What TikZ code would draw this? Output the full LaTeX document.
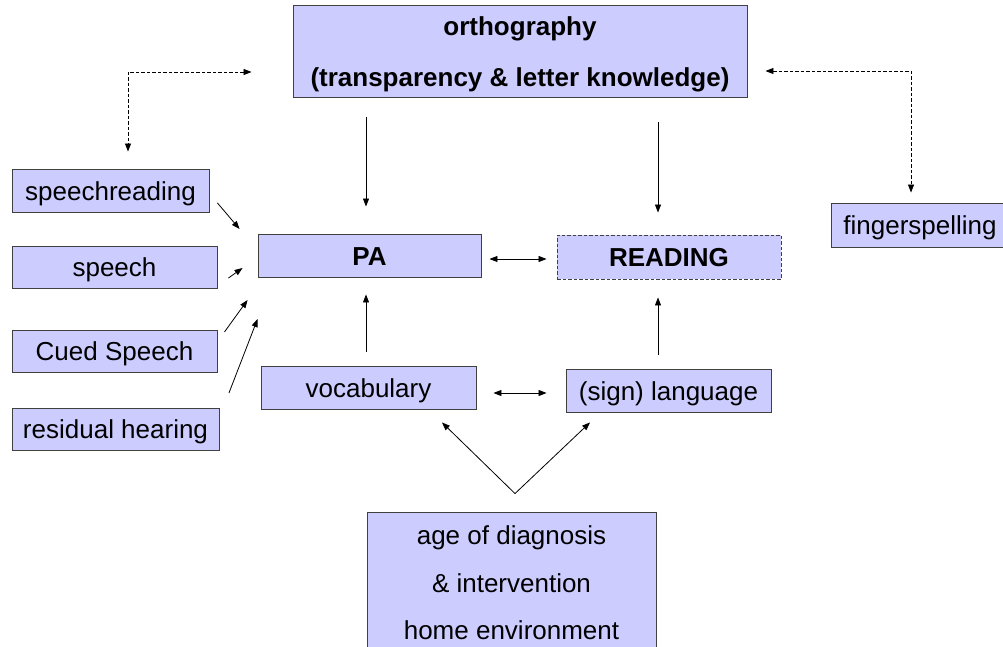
\documentclass[tikz,border=0pt]{standalone}
\usepackage{fontspec}
\setmainfont{Liberation Sans}
\usetikzlibrary{arrows.meta,calc}
\definecolor{boxfill}{HTML}{CCCCFF}
\definecolor{boxline}{HTML}{404040}
\tikzset{
  box/.style={draw=boxline, fill=boxfill, line width=0.9pt, rectangle, inner sep=0pt,
    font=\fontsize{26}{30}\selectfont, text=black},
  onebox/.style={box, text height=22pt, text depth=2.5pt},
  boldbox/.style={onebox, font=\fontsize{26}{30}\selectfont\bfseries},
  arr/.style={-{Triangle[length=8pt,width=6pt]}, line width=0.8pt, draw=black},
  biarr/.style={{Triangle[length=8pt,width=6pt]}-{Triangle[length=8pt,width=6pt]}, line width=0.8pt, draw=black},
  darr/.style={biarr, dash pattern=on 3.5pt off 2pt}
}
\begin{document}
\begin{tikzpicture}[x=1pt,y=-1pt]
\useasboundingbox (0,0) rectangle (1003,647);
\clip (0,0) rectangle (1003,647);
\fill[white] (0,0) rectangle (1003,647);

\node[box, minimum width=454, minimum height=92, align=center,
      font=\fontsize{26}{51}\selectfont\bfseries] (orth) at (520,51)
      {\rule{0pt}{25pt}orthography\\(transparency \& letter knowledge)};
\node[onebox, minimum width=197, minimum height=43] (sr) at (110.5,190.5) {speechreading};
\node[onebox, minimum width=205, minimum height=42] (sp) at (114.5,267) {speech};
\node[onebox, minimum width=205, minimum height=42] (cs) at (114.5,351) {Cued Speech};
\node[onebox, minimum width=207, minimum height=42] (rh) at (115.5,429) {residual hearing};
\node[boldbox, minimum width=223, minimum height=43] (pa) at (369.5,255.5) {PA};
\node[boldbox, dash pattern=on 3.5pt off 2pt, minimum width=224, minimum height=44] (rd) at (669,257) {READING};
\node[onebox, minimum width=215, minimum height=43] (voc) at (368.5,387.5) {vocabulary};
\node[onebox, minimum width=205, minimum height=43] (sl) at (668.5,390.5) {(sign) language};
\node[onebox, minimum width=178, minimum height=44] (fs) at (920,225) {fingerspelling};
\node[box, minimum width=289, minimum height=142, align=center,
      font=\fontsize{26}{47.5}\selectfont] (env) at (511.5,583)
      {age of diagnosis\\\& intervention\\home environment};

% vertical arrows
\draw[arr] ($(pa.north |- orth.south)+(-3.5,20)$) -- ($(pa.north)+(-3.5,-27)$);
\draw[arr] ($(rd.north |- orth.south)+(-11,25)$) -- ($(rd.north)+(-11,-22)$);
\draw[arr] ($(voc.north)+(-2.5,-14)$) -- ($(pa.south)+(-3.5,17)$);
\draw[arr] ($(sl.north)+(-10.5,-14)$) -- ($(rd.south)+(-11,18)$);

% horizontal double arrows
\draw[biarr] ($(pa.east)+(8,3.5)$) -- ($(rd.west)+(-10,2)$);
\draw[biarr] ($(voc.east)+(17,5.5)$) -- ($(sl.west)+(-19,2.5)$);

% V from environment
\coordinate (apex) at ($(env.north)+(3.5,-18)$);
\draw[arr] (apex) -- ($(voc.south)+(73.5,13)$);
\draw[arr] (apex) -- ($(sl.south)+(-78.5,10)$);

% left inputs to PA
\draw[arr] ($(sr.east)+(8,12.5)$) -- ($(pa.west)+(-18,-26.5)$);
\draw[arr] ($(sp.east)+(11,11)$) -- ($(pa.west)+(-15,12.5)$);
\draw[arr] ($(cs.east)+(7,-19)$) -- ($(pa.west)+(-10,44.5)$);
\draw[arr] ($(rh.east)+(9.5,-36)$) -- ($(pa.west)+(0,63.5)$);

% dashed connectors
\draw[darr] ($(orth.west)+(-41,21)$) -| ($(sr.north)+(17.5,-17)$);
\draw[darr] ($(orth.east)+(18,20)$) -| ($(fs.north)+(-9,-10)$);
\end{tikzpicture}
\end{document}
